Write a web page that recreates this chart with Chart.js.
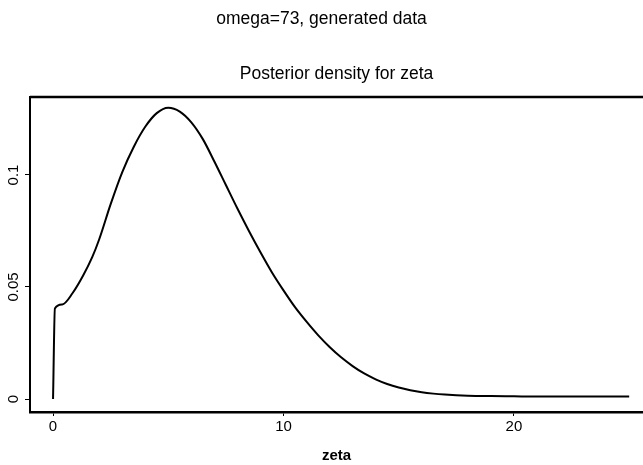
<!DOCTYPE html>
<html>
<head>
<meta charset="utf-8">
<script src="https://cdn.jsdelivr.net/npm/chart.js@4"></script>
<style>
html,body{margin:0;padding:0;background:#fff;}
canvas{display:block;}
</style>
</head>
<body>
<canvas id="c" width="643" height="465"></canvas>
<script>
const mainTitle = 'omega=73, generated data';
const subTitle = 'Posterior density for zeta';
const xLabel = 'zeta';
const zeta = [0, 0.08, 0.4, 0.85, 1.3, 1.7, 2.0, 2.5, 3.0, 3.5, 4.0, 4.5, 5.0, 5.5, 6.0, 6.5, 7.0, 7.5, 8.0, 8.5, 9.0, 9.5, 10.0, 10.5, 11.0, 11.5, 12.0, 12.5, 13.0, 13.5, 14.0, 14.5, 15.0, 15.5, 16.0, 16.5, 17, 18, 19, 20, 21, 22, 23, 24, 25];
const density = [0, 0.0404, 0.0422, 0.0473, 0.0550, 0.0633, 0.0712, 0.0870, 0.1012, 0.1125, 0.1215, 0.1276, 0.1300, 0.1283, 0.1235, 0.1160, 0.1060, 0.0955, 0.0850, 0.0750, 0.0655, 0.0565, 0.0485, 0.0410, 0.0345, 0.0285, 0.0232, 0.0186, 0.0147, 0.0114, 0.0088, 0.0067, 0.0051, 0.0039, 0.0030, 0.0024, 0.0020, 0.0015, 0.0013, 0.0012, 0.0011, 0.0011, 0.0011, 0.0011, 0.0011];
const xTicks = [0, 10, 20];
const yTicks = [0, 0.05, 0.1];
const yTickLabels = ['0', '0.05', '0.1'];

const FONT = '"Liberation Sans", Arial, Helvetica, sans-serif';

const framePlugin = {
  id: 'frame',
  afterDraw(chart) {
    const ctx = chart.ctx;
    const a = chart.chartArea;
    const ys = chart.scales.y;
    ctx.save();
    ctx.strokeStyle = '#000';
    ctx.lineWidth = 2.5;
    ctx.beginPath();
    ctx.moveTo(a.left, a.top);
    ctx.lineTo(a.right, a.top);
    ctx.stroke();
    ctx.fillStyle = '#000';
    ctx.textAlign = 'center';
    ctx.textBaseline = 'middle';
    ctx.font = '17.5px ' + FONT;
    ctx.fillText(mainTitle, chart.width / 2, 19);
    ctx.fillText(subTitle, (a.left + a.right) / 2, 74);
    ctx.font = '15px ' + FONT;
    yTicks.forEach((v, i) => {
      const py = ys.getPixelForValue(v);
      ctx.save();
      ctx.translate(14, py);
      ctx.rotate(-Math.PI / 2);
      ctx.fillText(yTickLabels[i], 0, 0);
      ctx.restore();
    });
    ctx.restore();
  }
};

new Chart(document.getElementById('c'), {
  type: 'line',
  data: {
    datasets: [{
      data: zeta.map((x, i) => ({x: x, y: density[i]})),
      borderColor: '#000',
      borderWidth: 2,
      pointRadius: 0,
      fill: false,
      cubicInterpolationMode: 'monotone'
    }]
  },
  options: {
    responsive: false,
    animation: false,
    devicePixelRatio: 1,
    layout: {padding: {top: 97, left: 0, right: 0, bottom: 0}},
    plugins: {legend: {display: false}, title: {display: false}, tooltip: {enabled: false}},
    scales: {
      x: {
        type: 'linear',
        min: -1,
        max: 25.6,
        afterBuildTicks: s => { s.ticks = xTicks.map(v => ({value: v})); },
        afterFit: s => { s.height = 53; },
        ticks: {color: '#000', font: {family: FONT, size: 15}, padding: 2, maxRotation: 0, autoSkip: false, callback: v => String(v)},
        grid: {drawOnChartArea: false, drawTicks: true, tickLength: 4, color: '#000', tickWidth: 1},
        border: {display: true, color: '#000', width: 2.5},
        title: {display: true, text: xLabel, color: '#000', font: {family: FONT, size: 15, weight: 'bold'}, padding: {top: 0, bottom: 0}}
      },
      y: {
        type: 'linear',
        min: -0.0058,
        max: 0.1348,
        afterBuildTicks: s => { s.ticks = yTicks.map(v => ({value: v})); },
        afterFit: s => { s.width = 30; },
        ticks: {display: false},
        grid: {drawOnChartArea: false, drawTicks: true, tickLength: 5, color: '#000', tickWidth: 1},
        border: {display: true, color: '#000', width: 2}
      }
    }
  },
  plugins: [framePlugin]
});
</script>
</body>
</html>
